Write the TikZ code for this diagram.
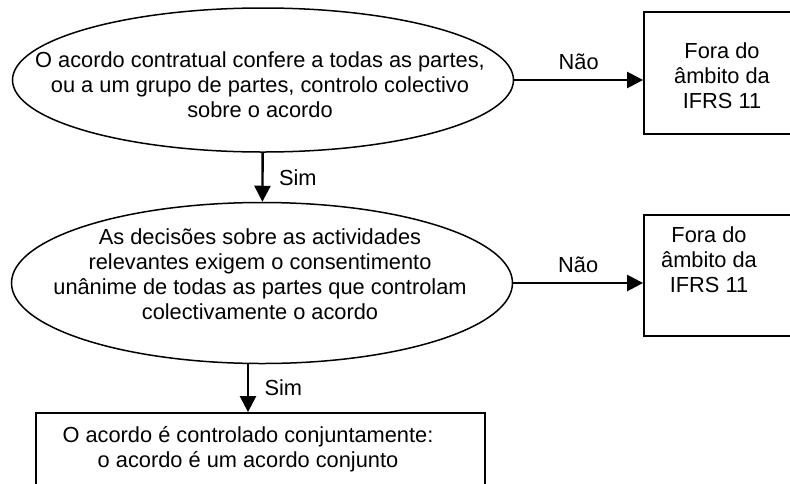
\documentclass[tikz,border=0pt]{standalone}
\usepackage{fontspec}
\setmainfont{Liberation Sans}
\usetikzlibrary{shapes.geometric,arrows.meta,positioning,calc}

\begin{document}
\begin{tikzpicture}[>={Triangle[length=16pt,width=16pt]},x=1pt,y=-1pt,font=\fontsize{21.8}{25}\selectfont]
	\tikzset{question/.style = {shape=ellipse,draw,line width=1.5pt,inner sep=0pt,minimum width=501pt}}
	\tikzset{result/.style = {shape=rectangle,draw,line width=1.8pt,minimum width=160pt}}
	\tikzset{txt/.style = {align=center,inner sep=0pt}}
	\tikzset{link/.style = {->,line width=2.4pt}}
	\useasboundingbox (0,0) rectangle (790,483);
	% vertices
	\node[question,minimum height=144pt] (Q1) at (263,80) {};
	\node[txt] (TQ1) at (260,85) {O acordo contratual confere a todas as partes,\\ou a um grupo de partes, controlo colectivo\\sobre o acordo};
	\node[question,minimum height=161pt] (Q2) at (262,283) {};
	\node[txt] (TQ2) at (260,274) {As decisões sobre as actividades\\relevantes exigem o consentimento\\unânime de todas as partes que controlam\\colectivamente o acordo};
	\node[result,minimum height=122pt] (R1) at (724,73) {};
	\node[txt] (TR1) at (722,76) {Fora do\\âmbito da\\IFRS 11};
	\node[result,minimum height=121pt] (R2) at (724,275.5) {};
	\node[txt] (TR2) at (709,260) {Fora do\\âmbito da\\IFRS 11};
	\node[result,minimum width=449pt,minimum height=110pt] (R3) at (260.5,468) {};
	\node[txt] (TR3) at (248,449.5) {O acordo é controlado conjuntamente:\\o acordo é um acordo conjunto};
	%edges
	\draw[link] (Q1.east) -- (Q1.east -| R1.west) node[midway,above=6pt] {Não};
	\draw[link] (Q1) -- (Q2) node[midway,right=12pt] {Sim};
	\draw[link] (Q2.east) -- (Q2.east -| R2.west) node[midway,above=6pt] {Não};
	\draw[link] (Q2.south -| TR3) -- (TR3 |- R3.north) node[midway,right=12pt] {Sim};
\end{tikzpicture}
\end{document}
